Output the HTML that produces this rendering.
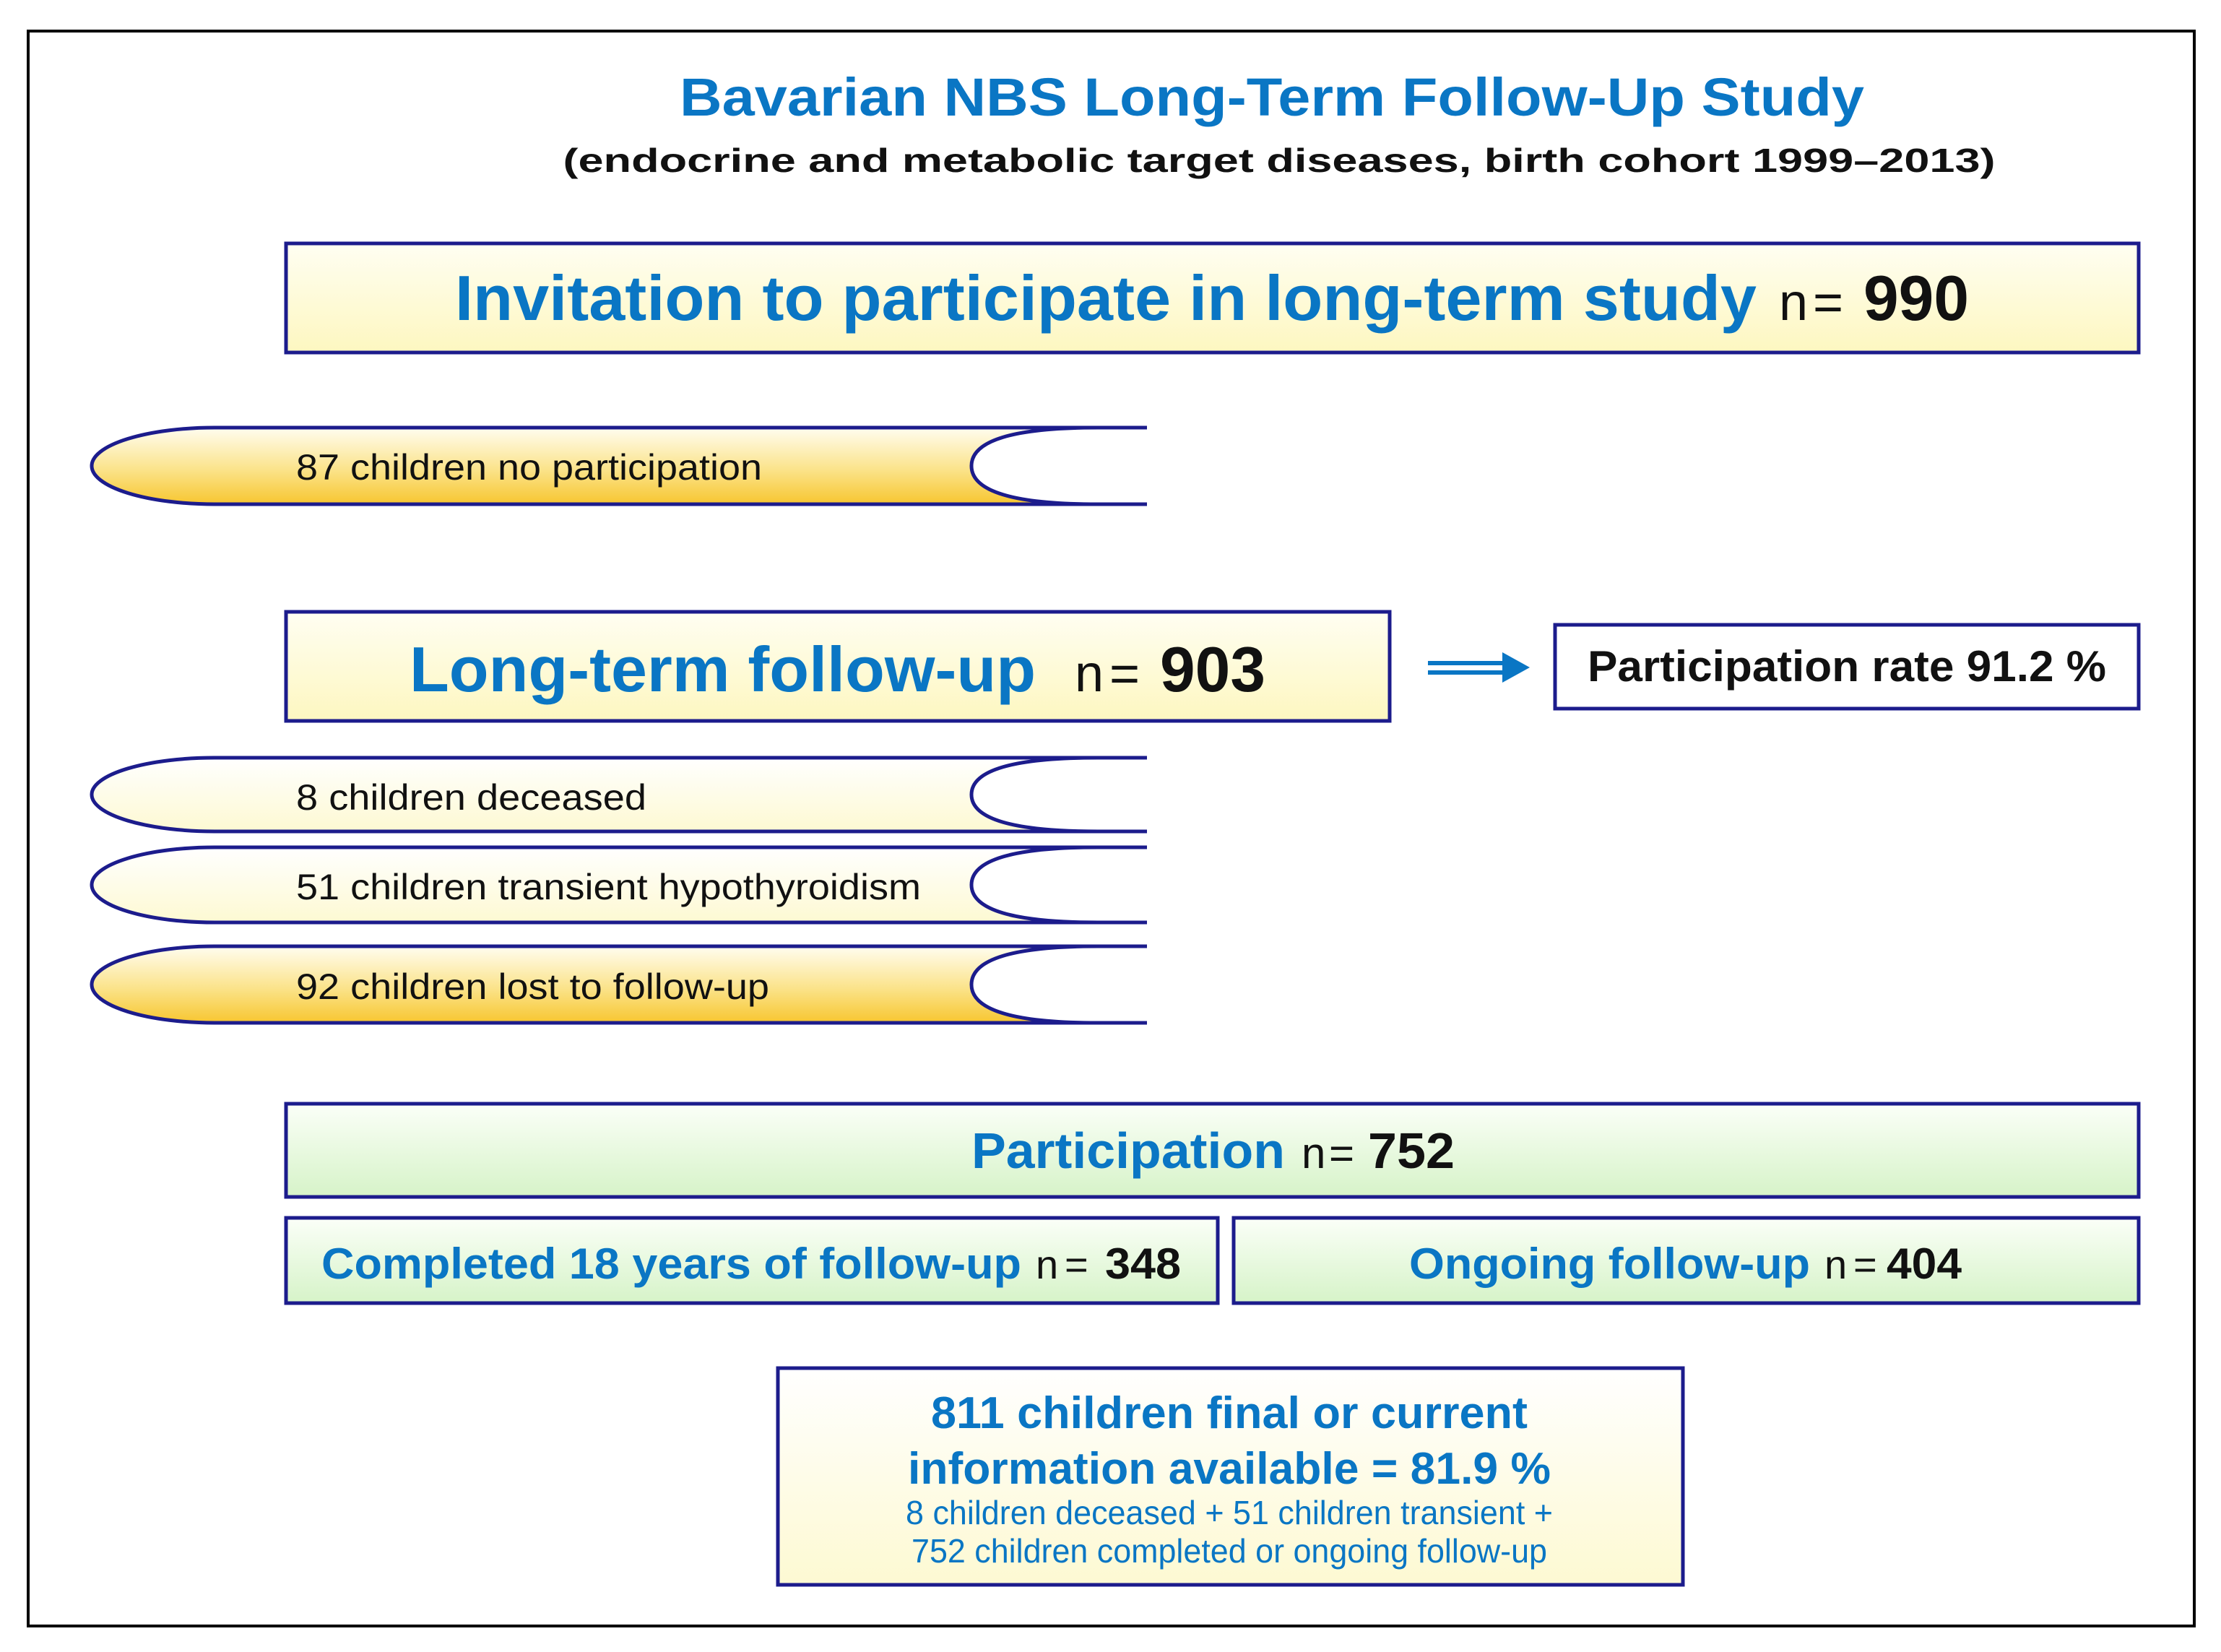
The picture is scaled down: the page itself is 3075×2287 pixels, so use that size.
<!DOCTYPE html>
<html><head><meta charset="utf-8"><style>
html,body{margin:0;padding:0;background:#fff;}
svg{display:block;}
text{font-family:"Liberation Sans",Arial,sans-serif;}
</style></head><body>
<svg width="3075" height="2287" viewBox="0 0 3075 2287">
<defs>
<linearGradient id="gY" x1="0" y1="0" x2="0" y2="1"><stop offset="0" stop-color="#fffef2"/><stop offset="1" stop-color="#fdf7c0"/></linearGradient>
<linearGradient id="gGold" x1="0" y1="0" x2="0" y2="1"><stop offset="0" stop-color="#fffdf0"/><stop offset="0.55" stop-color="#fbe38a"/><stop offset="1" stop-color="#f7c630"/></linearGradient>
<linearGradient id="gLite" x1="0" y1="0" x2="0" y2="1"><stop offset="0" stop-color="#ffffff"/><stop offset="1" stop-color="#fdf9d2"/></linearGradient>
<linearGradient id="gG" x1="0" y1="0" x2="0" y2="1"><stop offset="0" stop-color="#fbfff8"/><stop offset="1" stop-color="#d6f3c8"/></linearGradient>
</defs>
<rect x="39" y="43" width="2999" height="2208" fill="none" stroke="#000" stroke-width="4"/>

<text x="1761" y="160" text-anchor="middle" font-size="74" font-weight="bold" fill="#0a76c4" textLength="1640" lengthAdjust="spacingAndGlyphs">Bavarian NBS Long-Term Follow-Up Study</text>
<text x="1771" y="238" text-anchor="middle" font-size="46" font-weight="bold" fill="#111" textLength="1983" lengthAdjust="spacingAndGlyphs">(endocrine and metabolic target diseases, birth cohort 1999–2013)</text>

<g>
<rect x="396" y="337" width="2565" height="151" fill="url(#gY)" stroke="#1c1c8c" stroke-width="5"/>
<text x="630" y="443" font-size="88" font-weight="bold" fill="#0a76c4" textLength="1802" lengthAdjust="spacingAndGlyphs">Invitation to participate in long-term study</text>
<text x="2463" y="443" font-size="72" fill="#111">n</text>
<text x="2510" y="443" font-size="72" fill="#111">=</text>
<text x="2580" y="443" font-size="88" font-weight="bold" fill="#111" textLength="146" lengthAdjust="spacingAndGlyphs">990</text>
</g>

<g>
<path d="M297,592 L1520,592 Q1345,592 1345,645 Q1345,698 1520,698 L297,698 A170,53 0 0 1 297,592 Z" fill="url(#gGold)" stroke="#1c1c8c" stroke-width="5"/>
<path d="M1500,592 L1588,592 M1500,698 L1588,698" stroke="#1c1c8c" stroke-width="5"/>
<text x="410" y="664" font-size="50" fill="#111" textLength="645" lengthAdjust="spacingAndGlyphs">87 children no participation</text>
</g>

<g>
<rect x="396" y="847" width="1528" height="151" fill="url(#gY)" stroke="#1c1c8c" stroke-width="5"/>
<text x="567" y="957" font-size="88" font-weight="bold" fill="#0a76c4" textLength="867" lengthAdjust="spacingAndGlyphs">Long-term follow-up</text>
<text x="1488" y="957" font-size="72" fill="#111">n</text>
<text x="1536" y="957" font-size="72" fill="#111">=</text>
<text x="1606" y="957" font-size="88" font-weight="bold" fill="#111" textLength="146" lengthAdjust="spacingAndGlyphs">903</text>
</g>

<g>
<path d="M1977,918 L2090,918 M1977,931 L2090,931" stroke="#0a76c4" stroke-width="6"/>
<path d="M2080,903 L2118,924 L2080,945 Z" fill="#0a76c4"/>
</g>

<g>
<rect x="2153" y="865" width="808" height="116" fill="#fff" stroke="#1c1c8c" stroke-width="5"/>
<text x="2198" y="943" font-size="60" font-weight="bold" fill="#111" textLength="718" lengthAdjust="spacingAndGlyphs">Participation rate 91.2 %</text>
</g>

<g>
<path d="M297,1049 L1520,1049 Q1345,1049 1345,1100 Q1345,1151 1520,1151 L297,1151 A170,51 0 0 1 297,1049 Z" fill="url(#gLite)" stroke="#1c1c8c" stroke-width="5"/>
<path d="M1500,1049 L1588,1049 M1500,1151 L1588,1151" stroke="#1c1c8c" stroke-width="5"/>
<text x="410" y="1121" font-size="50" fill="#111" textLength="485" lengthAdjust="spacingAndGlyphs">8 children deceased</text>
</g>
<g>
<path d="M297,1173 L1520,1173 Q1345,1173 1345,1225 Q1345,1277 1520,1277 L297,1277 A170,52 0 0 1 297,1173 Z" fill="url(#gLite)" stroke="#1c1c8c" stroke-width="5"/>
<path d="M1500,1173 L1588,1173 M1500,1277 L1588,1277" stroke="#1c1c8c" stroke-width="5"/>
<text x="410" y="1245" font-size="50" fill="#111" textLength="865" lengthAdjust="spacingAndGlyphs">51 children transient hypothyroidism</text>
</g>
<g>
<path d="M297,1310 L1520,1310 Q1345,1310 1345,1363 Q1345,1416 1520,1416 L297,1416 A170,53 0 0 1 297,1310 Z" fill="url(#gGold)" stroke="#1c1c8c" stroke-width="5"/>
<path d="M1500,1310 L1588,1310 M1500,1416 L1588,1416" stroke="#1c1c8c" stroke-width="5"/>
<text x="410" y="1383" font-size="50" fill="#111" textLength="655" lengthAdjust="spacingAndGlyphs">92 children lost to follow-up</text>
</g>

<g>
<rect x="396" y="1528" width="2565" height="129" fill="url(#gG)" stroke="#1c1c8c" stroke-width="5"/>
<text x="1345" y="1617" font-size="70" font-weight="bold" fill="#0a76c4" textLength="434" lengthAdjust="spacingAndGlyphs">Participation</text>
<text x="1802" y="1617" font-size="60" fill="#111">n</text>
<text x="1840" y="1617" font-size="60" fill="#111">=</text>
<text x="1894" y="1617" font-size="70" font-weight="bold" fill="#111" textLength="120" lengthAdjust="spacingAndGlyphs">752</text>
</g>

<g>
<rect x="396" y="1686" width="1290" height="118" fill="url(#gG)" stroke="#1c1c8c" stroke-width="5"/>
<text x="445" y="1770" font-size="60" font-weight="bold" fill="#0a76c4" textLength="969" lengthAdjust="spacingAndGlyphs">Completed 18 years of follow-up</text>
<text x="1434" y="1770" font-size="56" fill="#111">n</text>
<text x="1474" y="1770" font-size="56" fill="#111">=</text>
<text x="1530" y="1770" font-size="60" font-weight="bold" fill="#111" textLength="105" lengthAdjust="spacingAndGlyphs">348</text>
</g>
<g>
<rect x="1708" y="1686" width="1253" height="118" fill="url(#gG)" stroke="#1c1c8c" stroke-width="5"/>
<text x="1951" y="1770" font-size="60" font-weight="bold" fill="#0a76c4" textLength="555" lengthAdjust="spacingAndGlyphs">Ongoing follow-up</text>
<text x="2526" y="1770" font-size="56" fill="#111">n</text>
<text x="2566" y="1770" font-size="56" fill="#111">=</text>
<text x="2612" y="1770" font-size="60" font-weight="bold" fill="#111" textLength="104" lengthAdjust="spacingAndGlyphs">404</text>
</g>

<g>
<rect x="1077" y="1894" width="1253" height="300" fill="url(#gLite)" stroke="#1c1c8c" stroke-width="5"/>
<text x="1702" y="1977" text-anchor="middle" font-size="62" font-weight="bold" fill="#0a76c4" textLength="826" lengthAdjust="spacingAndGlyphs">811 children final or current</text>
<text x="1702" y="2054" text-anchor="middle" font-size="62" font-weight="bold" fill="#0a76c4" textLength="890" lengthAdjust="spacingAndGlyphs">information available = 81.9 %</text>
<text x="1702" y="2110" text-anchor="middle" font-size="46" fill="#0a76c4" textLength="896" lengthAdjust="spacingAndGlyphs">8 children deceased + 51 children transient +</text>
<text x="1702" y="2163" text-anchor="middle" font-size="46" fill="#0a76c4" textLength="880" lengthAdjust="spacingAndGlyphs">752 children completed or ongoing follow-up</text>
</g>
</svg>
</body></html>
